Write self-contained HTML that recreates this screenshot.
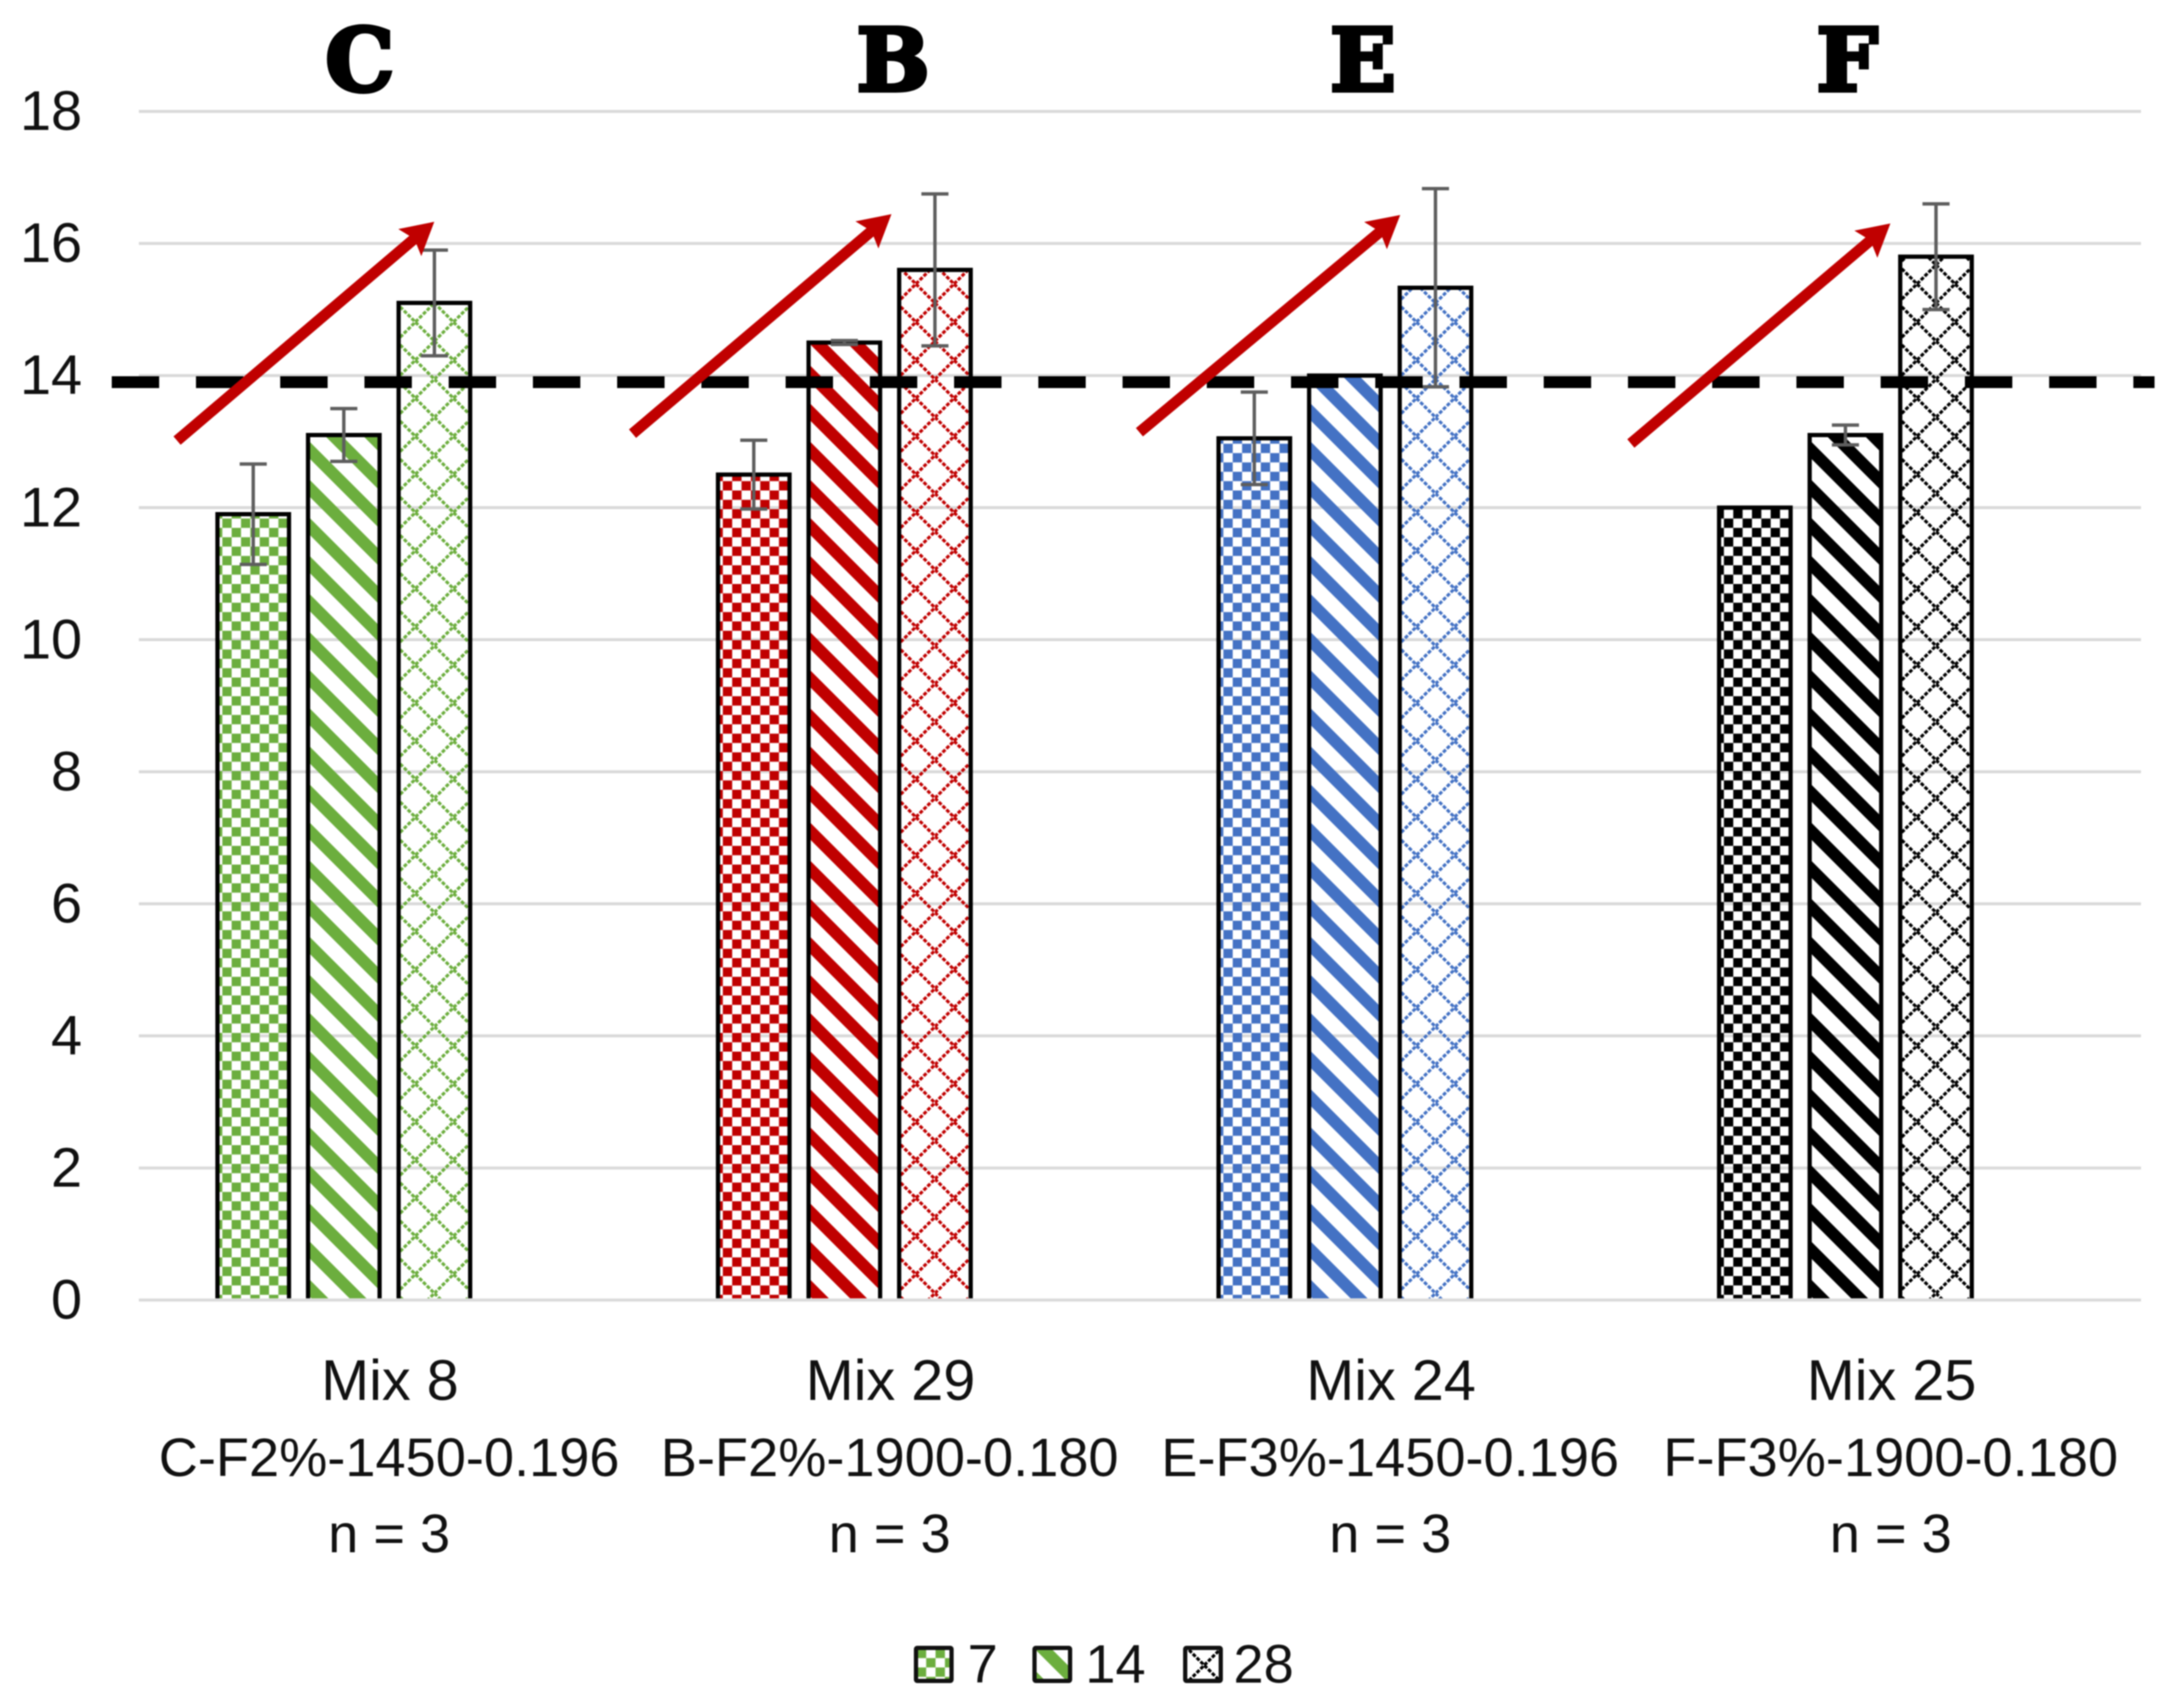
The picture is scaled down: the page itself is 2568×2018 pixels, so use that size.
<!DOCTYPE html>
<html lang="en">
<head>
<meta charset="utf-8">
<title>Strength by mix and curing age</title>
<style>
html,body{margin:0;padding:0;background:#fff;width:2568px;height:2018px;overflow:hidden}
svg{display:block;filter:blur(0.9px)}
text{font-family:"Liberation Sans",sans-serif;fill:#111}
.letter{font-family:"DejaVu Serif","Liberation Serif",serif;font-weight:bold;font-size:102px;fill:#000;stroke:#000;stroke-width:5px;text-anchor:middle}
</style>
</head>
<body>
<svg id="chart" xmlns="http://www.w3.org/2000/svg" width="2568" height="2018" viewBox="0 0 2568 2018">
  <rect width="2568" height="2018" fill="#fff"/>
  <defs id="defs"></defs>
  <g id="grid"></g>
  <g id="yticks"></g>
  <g id="bars"></g>
  <g id="errs"></g>
  <g id="thresh"></g>
  <g fill="#c00000" stroke="none">
    <g transform="translate(513,262) rotate(-40.4)"><rect x="-399" y="-6.5" width="369" height="13"/><polygon points="0,0 -38,-21 -31,0 -38,21"/></g>
    <g transform="translate(1053,253) rotate(-40.3)"><rect x="-401" y="-6.5" width="371" height="13"/><polygon points="0,0 -38,-21 -31,0 -38,21"/></g>
    <g transform="translate(1654,254) rotate(-39.8)"><rect x="-401" y="-6.5" width="371" height="13"/><polygon points="0,0 -38,-21 -31,0 -38,21"/></g>
    <g transform="translate(2233,264) rotate(-40.3)"><rect x="-402" y="-6.5" width="372" height="13"/><polygon points="0,0 -38,-21 -31,0 -38,21"/></g>
  </g>
  <g>
    <text class="letter" x="425" y="107">C</text>
    <text class="letter" x="1055" y="107">B</text>
    <text class="letter" x="1610" y="107">E</text>
    <text class="letter" x="2182" y="107">F</text>
  </g>
  <g id="xlabels"></g>
  <g id="legend"></g>
</svg>
<script>
const categories = ['Mix 8', 'Mix 29', 'Mix 24', 'Mix 25'];
const descriptors = ['C-F2%-1450-0.196', 'B-F2%-1900-0.180', 'E-F3%-1450-0.196', 'F-F3%-1900-0.180'];
const sampleCounts = ['n = 3', 'n = 3', 'n = 3', 'n = 3'];
const seriesNames = ['7', '14', '28'];
const day7Values = [11.9, 12.5, 13.05, 12.0];
const day14Values = [13.1, 14.5, 14.0, 13.1];
const day28Values = [15.1, 15.6, 15.33, 15.8];
const day7Errors = [0.76, 0.52, 0.7, 0];
const day14Errors = [0.4, 0.03, 0, 0.15];
const day28Errors = [0.8, 1.15, 1.5, 0.8];
const yTicks = [0, 2, 4, 6, 8, 10, 12, 14, 16, 18];
const thresholdValue = 13.9;

const seriesValues = [day7Values, day14Values, day28Values];
const seriesErrors = [day7Errors, day14Errors, day28Errors];
const palette = ['#6cae3e', '#c00000', '#4472c4', '#000000'];
const NS = 'http://www.w3.org/2000/svg';
const PLOT_LEFT = 164, PLOT_RIGHT = 2529, Y_ZERO = 1536, PX_PER_UNIT = 78.02;
const SLOT = 107, BAR_W = 84.5;

function yScale(v) { return Y_ZERO - v * PX_PER_UNIT; }
function catCenter(i) { return PLOT_LEFT + (i + 0.5) * (PLOT_RIGHT - PLOT_LEFT) / categories.length; }
function barCenter(i, s) { return catCenter(i) + (s - 1.5) * SLOT; }
function make(tag, attrs, parent) {
  const el = document.createElementNS(NS, tag);
  for (const k in attrs) el.setAttribute(k, attrs[k]);
  if (parent) parent.appendChild(el);
  return el;
}
const defs = document.getElementById('defs');

function makePattern(id, kind, color, ox, oy) {
  const size = kind === 'checker' ? 22.1 : 45;
  const p = make('pattern', { id: id, patternUnits: 'userSpaceOnUse', width: size, height: size,
    patternTransform: 'translate(' + ox + ',' + oy + ')' }, defs);
  if (kind === 'checker') {
    make('rect', { x: 0, y: 0, width: 11.05, height: 11.05, fill: color }, p);
    make('rect', { x: 11.05, y: 11.05, width: 11.05, height: 11.05, fill: color }, p);
  } else if (kind === 'stripe') {
    const t = 10;
    make('polygon', { points: '0,' + (-t) + ' 0,' + t + ' 45,' + (45 + t) + ' 45,' + (45 - t), fill: color }, p);
    make('polygon', { points: '0,' + (45 - t) + ' ' + t + ',45 0,45', fill: color }, p);
    make('polygon', { points: (45 - t) + ',0 45,0 45,' + t, fill: color }, p);
  } else {
    const st = { stroke: color, 'stroke-width': 3.6, 'stroke-dasharray': '4.5 1.9', fill: 'none' };
    make('line', Object.assign({ x1: 0, y1: 0, x2: 45, y2: 45 }, st), p);
    make('line', Object.assign({ x1: 0, y1: 45, x2: 45, y2: 0 }, st), p);
  }
  return 'url(#' + id + ')';
}
const patternKinds = ['checker', 'stripe', 'hatch'];

/* gridlines and y tick labels */
const gridG = document.getElementById('grid');
const yG = document.getElementById('yticks');
yTicks.forEach(function (t) {
  const line = make('line', { x1: PLOT_LEFT, x2: PLOT_RIGHT, y1: yScale(t), y2: yScale(t), stroke: '#d9d9d9', 'stroke-width': 3.5 }, gridG);
  
  
  const lab = make('text', { x: 97, y: yScale(t) + 22, 'text-anchor': 'end', 'font-size': 66 }, yG);
  
  
  lab.textContent = t;
});

/* bars and error bars */
const barsG = document.getElementById('bars');
const errG = document.getElementById('errs');
categories.forEach(function (cat, i) {
  seriesValues.forEach(function (vals, s) {
    const c = barCenter(i, s), left = c - BAR_W / 2, top = yScale(vals[i]);
    const kind = patternKinds[s];
    const id = 'p' + i + '-' + s;
    const ox = kind === 'checker' ? left + 5.7 - 11.05 : (kind === 'stripe' ? left - 2 : c);
    const oy = kind === 'checker' ? 1353 : (kind === 'stripe' ? 1383 : 1393);
    const fill = makePattern(id, kind, palette[i], ox, oy);
    const bar = make('path', {
      d: 'M' + left + ' ' + (Y_ZERO - 2) + 'V' + top + 'H' + (left + BAR_W) + 'V' + (Y_ZERO - 2),
      fill: fill, stroke: '#000', 'stroke-width': 5
    }, barsG);
    
    
    const err = seriesErrors[s][i];
    if (err > 0) {
      const hi = yScale(vals[i] + err), lo = yScale(vals[i] - err);
      const eb = make('path', {
        d: 'M' + c + ' ' + hi + 'V' + lo + 'M' + (c - 16) + ' ' + hi + 'H' + (c + 16) + 'M' + (c - 16) + ' ' + lo + 'H' + (c + 16),
        stroke: '#5e5e5e', 'stroke-width': 4, fill: 'none'
      }, errG);
      
      
    }
  });

  const xG = document.getElementById('xlabels');
  [cat, descriptors[i], sampleCounts[i]].forEach(function (txt, r) {
    const t = make('text', { x: catCenter(i) + (r === 0 ? 1 : 0), y: 1654 + r * 90, 'text-anchor': 'middle', 'font-size': r === 0 ? 68 : 64 }, xG);
    
    
    t.textContent = txt;
  });
});

/* threshold dashed line */
const th = make('line', { x1: 132, x2: 2545, y1: yScale(thresholdValue), y2: yScale(thresholdValue),
  stroke: '#000', 'stroke-width': 14, 'stroke-dasharray': '56 43.5' }, document.getElementById('thresh'));



/* legend */
const legendG = document.getElementById('legend');
const swatchLeft = [1082, 1222, 1400];
const legendTextLeft = [1143, 1282, 1457];
const swatchPatterns = [
  makePattern('lg0', 'checker', palette[0], 1083, 1948),
  makePattern('lg1', 'stripe', palette[0], 1224, 1940),
  makePattern('lg2', 'hatch', palette[3], 1400, 1945)
];
seriesNames.forEach(function (name, s) {
  const sw = make('rect', { x: swatchLeft[s], y: 1947, width: 42, height: 39, fill: swatchPatterns[s], stroke: '#111', 'stroke-width': 5, rx: 1.5 }, legendG);
  
  
  const t = make('text', { x: legendTextLeft[s], y: 1988, 'font-size': 64 }, legendG);
  
  
  t.textContent = name;
});
</script>
</body>
</html>
